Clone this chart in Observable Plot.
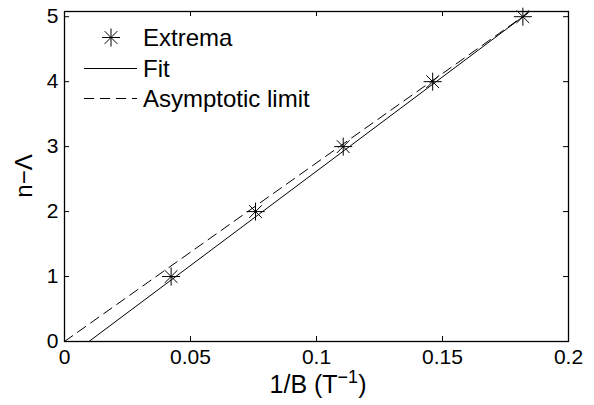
<!DOCTYPE html>
<html><head><meta charset="utf-8">
<script src="https://cdn.jsdelivr.net/npm/d3@7"></script>
<script src="https://cdn.jsdelivr.net/npm/@observablehq/plot@0.6"></script>
<style>
body{margin:0;background:#fff;}
#chart svg{font-family:"Liberation Sans", Arial, Helvetica, sans-serif; background:#fff;}
</style>
</head><body><div id="chart"></div>
<script>
// ---- data ----
const extremaX = [0.0423, 0.0758, 0.1106, 0.1461, 0.1819];
const extremaY = [1, 2, 3, 4, 5];
const fitX = [0.0097, 0.184];
const fitY = [0, 5.06];
const asymX = [0, 0.184];
const asymY = [0, 5.06];
const xTicks = [0, 0.05, 0.1, 0.15, 0.2];
const xTickLabels = ["0", "0.05", "0.1", "0.15", "0.2"];
const yTicks = [0, 1, 2, 3, 4, 5];
const yTickLabels = ["0", "1", "2", "3", "4", "5"];
const seriesNames = ["Extrema", "Fit", "Asymptotic limit"];
const xLabelMain = "1/B (T";
const xLabelSup = "−1";
const xLabelEnd = ")";
const yLabel = "n−Λ";

// ---- layout ----
const W = 594, H = 405;
const mL = 64, mR = 26, mT = 11, mB = 64;
const plotW = W - mL - mR, plotH = H - mT - mB;
const tickLen = 5;

const star8 = {
  draw(context, size) {
    const r = Math.sqrt(size / Math.PI);
    const d = r * Math.SQRT1_2;
    context.moveTo(-r, 0); context.lineTo(r, 0);
    context.moveTo(0, -r); context.lineTo(0, r);
    context.moveTo(-d, -d); context.lineTo(d, d);
    context.moveTo(-d, d); context.lineTo(d, -d);
  }
};

const ext = extremaX.map((x, i) => ({x, y: extremaY[i]}));
const fit = fitX.map((x, i) => ({x, y: fitY[i]}));
const asym = asymX.map((x, i) => ({x, y: asymY[i]}));

const plot = Plot.plot({
  width: W, height: H,
  marginLeft: mL, marginRight: mR, marginTop: mT, marginBottom: mB,
  style: {background: "#fff", color: "#000"},
  x: {domain: [0, 0.2]},
  y: {domain: [0, 5.08]},
  marks: [
    Plot.line(asym, {x: "x", y: "y", stroke: "#000", strokeWidth: 1, strokeDasharray: "10,6"}),
    Plot.line(fit, {x: "x", y: "y", stroke: "#000", strokeWidth: 1}),
    Plot.dot(ext, {x: "x", y: "y", symbol: star8, r: 9, stroke: "#000", strokeWidth: 1, fill: "none"}),
    Plot.tickX(xTicks, {x: d => d, insetTop: plotH - tickLen, stroke: "#000"}),
    Plot.tickX(xTicks, {x: d => d, insetBottom: plotH - tickLen, stroke: "#000"}),
    Plot.tickY(yTicks, {y: d => d, insetRight: plotW - tickLen, stroke: "#000"}),
    Plot.tickY(yTicks, {y: d => d, insetLeft: plotW - tickLen, stroke: "#000"}),
    Plot.axisX({ticks: xTicks, tickFormat: d => xTickLabels[xTicks.indexOf(d)], tickSize: 0, tickPadding: 8, fontSize: 21, label: null}),
    Plot.axisY({ticks: yTicks, tickFormat: d => yTickLabels[yTicks.indexOf(d)], tickSize: 0, tickPadding: 6, fontSize: 21, label: null}),
    Plot.frame({stroke: "#000", strokeWidth: 1.3})
  ]
});
document.getElementById("chart").appendChild(plot);

const svg = d3.select(plot);
// axis labels
const xl = svg.append("text").attr("x", mL + plotW / 2 + 2).attr("y", 393)
  .attr("text-anchor", "middle").attr("font-size", 25).attr("fill", "#000");
xl.append("tspan").text(xLabelMain);
xl.append("tspan").attr("font-size", 18).attr("dy", -10).text(xLabelSup);
xl.append("tspan").attr("dy", 10).text(xLabelEnd);

svg.append("text").attr("transform", `translate(32,${mT + plotH / 2}) rotate(-90)`)
  .attr("text-anchor", "middle").attr("font-size", 24).attr("fill", "#000").text(yLabel);

// legend
const lg = svg.append("g").attr("font-size", 24).attr("fill", "#000").attr("text-anchor", "start");
const rowsY = [37.5, 68.5, 98.5];
const starPath = d3.symbol(star8, 81 * Math.PI)();
lg.append("path").attr("d", starPath).attr("transform", `translate(111,${rowsY[0]})`)
  .attr("stroke", "#000").attr("fill", "none");
lg.append("line").attr("x1", 84).attr("x2", 137).attr("y1", rowsY[1]).attr("y2", rowsY[1]).attr("stroke", "#000");
lg.append("line").attr("x1", 84).attr("x2", 137).attr("y1", rowsY[2]).attr("y2", rowsY[2]).attr("stroke", "#000").attr("stroke-dasharray", "10,6");
seriesNames.forEach((s, i) => {
  lg.append("text").attr("x", 143).attr("y", rowsY[i] + 8.5).attr("text-anchor", "start").text(s);
});
</script>
</body></html>
